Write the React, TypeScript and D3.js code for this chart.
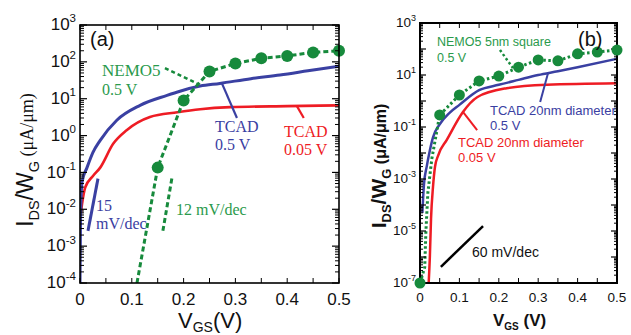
import React from 'react'
import * as d3 from 'd3'

// ---- panel (a) data: V_GS (V) and I_DS/W_G (uA/um)
const vTcad05A = [0, 0.001, 0.004, 0.0135, 0.025, 0.039, 0.071, 0.116, 0.168, 0.193, 0.232, 0.27, 0.33, 0.386, 0.44, 0.5]
const iTcad05A = [1e-4, 5e-3, 0.056, 0.135, 0.35, 0.74, 2.6, 6.6, 12.3, 16, 22, 26, 35, 44, 57, 76]
const vTcad005A = [0, 0.004, 0.01, 0.025, 0.039, 0.064, 0.09, 0.135, 0.188, 0.232, 0.29, 0.4, 0.5]
const iTcad005A = [5e-3, 0.014, 0.039, 0.08, 0.135, 0.6, 1.4, 3.2, 4.3, 5.2, 5.9, 6.3, 6.6]
const vNemoA = [0.11, 0.15, 0.2, 0.25, 0.3, 0.35, 0.4, 0.45, 0.5]
const iNemoA = [1e-4, 0.135, 9, 55, 90, 125, 145, 180, 200]
const vSlope15 = [0.0154, 0.0347]
const iSlope15 = [2.6e-3, 0.068]
const vSlope12 = [0.16, 0.178]
const iSlope12 = [2.6e-3, 0.078]

// ---- panel (b) data
const vTcad05B = [0.006, 0.01, 0.017, 0.025, 0.033, 0.05, 0.075, 0.1, 0.15, 0.2, 0.25, 0.3, 0.35, 0.4, 0.5]
const iTcad05B = [5e-5, 6e-4, 3e-3, 0.0126, 0.04, 0.126, 0.35, 0.71, 2.6, 4.2, 6.5, 10, 14, 20, 42]
const vTcad005B = [0.022, 0.025, 0.028, 0.033, 0.038, 0.046, 0.068, 0.109, 0.145, 0.22, 0.322, 0.5]
const iTcad005B = [1e-7, 1e-6, 3e-5, 5e-4, 2.9e-3, 8e-3, 0.032, 0.38, 1.4, 3.1, 4.2, 4.8]
const vNemoB = [0, 0.012, 0.015, 0.02, 0.03, 0.05, 0.1, 0.15, 0.2, 0.25, 0.3, 0.35, 0.4, 0.45, 0.5]
const iNemoB = [1e-7, 4e-7, 1e-5, 3e-4, 6e-3, 0.29, 1.7, 5.9, 9.1, 20, 38, 35, 65, 76, 91]
const vSlope60 = [0.053, 0.16]
const iSlope60 = [4.2e-7, 1.55e-5]

const xTicks = [0, 0.1, 0.2, 0.3, 0.4, 0.5]
const expA = [-4, -3, -2, -1, 0, 1, 2, 3]
const expB = [-7, -6, -5, -4, -3, -2, -1, 0, 1, 2, 3]
const expBLabels = [-7, -5, -3, -1, 1, 3]

const sans = 'Liberation Sans, Arial, sans-serif'
const serif = 'Liberation Serif, Times New Roman, serif'
const BLUE = '#3a40a2'
const RED = '#ee1c24'
const GREEN = '#178a3c'
const GREEN_TXT = '#2a9a4c'

type Sc = d3.ScaleLinear<number, number>
type Lg = d3.ScaleLogarithmic<number, number>

const zip = (v: number[], i: number[]) => v.map((d, k) => [d, i[k]] as [number, number])
const isMarker = (v: number) => Math.abs(v * 20 - Math.round(v * 20)) < 1e-6

function Frame({ x, y, exps, labels, fs, sup, majorLen, minorLen, sw }: {
  x: Sc, y: Lg, exps: number[], labels: number[], fs: number, sup: number, majorLen: number, minorLen: number, sw: number
}) {
  const [x0, x1] = x.range()
  const [y0, y1] = y.range()
  const minors: number[] = []
  exps.slice(0, -1).forEach(e => { for (let k = 2; k < 10; k++) minors.push(k * Math.pow(10, e)) })
  const xt = d3.range(0, 0.5001, 0.05)
  return (
    <g>
      {minors.map((m, i) => (
        <g key={'m' + i} stroke="#000" strokeWidth={1}>
          <line x1={x0} x2={x0 + minorLen} y1={y(m)} y2={y(m)} />
          <line x1={x1} x2={x1 - minorLen} y1={y(m)} y2={y(m)} />
        </g>
      ))}
      {exps.map(e => (
        <g key={'M' + e} stroke="#000" strokeWidth={1.2}>
          <line x1={x0} x2={x0 + majorLen} y1={y(Math.pow(10, e))} y2={y(Math.pow(10, e))} />
          <line x1={x1} x2={x1 - majorLen} y1={y(Math.pow(10, e))} y2={y(Math.pow(10, e))} />
        </g>
      ))}
      {xt.map((t, i) => (
        <g key={'x' + i} stroke="#000" strokeWidth={1}>
          <line x1={x(t)} x2={x(t)} y1={y0} y2={y0 - 5} />
          <line x1={x(t)} x2={x(t)} y1={y1} y2={y1 + 5} />
        </g>
      ))}
      <rect x={x0} y={y1} width={x1 - x0} height={y0 - y1} fill="none" stroke="#000" strokeWidth={sw} />
      {labels.map(e => (
        <text key={'l' + e} x={x0 - 4} y={y(Math.pow(10, e)) + fs * 0.3} textAnchor="end" fontFamily={sans} fontSize={fs} fill="#111">
          10<tspan dy={-fs * 0.45} fontSize={sup}>{e}</tspan>
        </text>
      ))}
      {xTicks.map(t => (
        <text key={'t' + t} x={x(t)} y={y0 + fs + 5} textAnchor="middle" fontFamily={sans} fontSize={fs} fill="#111">{t === 0 ? '0' : t.toFixed(1)}</text>
      ))}
    </g>
  )
}

export default function App() {
  const xA = d3.scaleLinear().domain([0, 0.5]).range([80, 339])
  const yA = d3.scaleLog().domain([1e-4, 1e3]).range([283, 25])
  const xB = d3.scaleLinear().domain([0, 0.5]).range([420, 617])
  const yB = d3.scaleLog().domain([1e-7, 1e3]).range([283, 23])

  const lineA = d3.line<[number, number]>().x(d => xA(d[0])).y(d => yA(d[1]))
  const lineB = d3.line<[number, number]>().x(d => xB(d[0])).y(d => yB(d[1]))
  const smoothA = d3.line<[number, number]>().x(d => xA(d[0])).y(d => yA(d[1])).curve(d3.curveMonotoneX)
  const smoothB = d3.line<[number, number]>().x(d => xB(d[0])).y(d => yB(d[1])).curve(d3.curveMonotoneX)

  const nemoA = zip(vNemoA, iNemoA)
  const nemoB = zip(vNemoB, iNemoB)

  return (
    <svg width={631} height={335} style={{ position: 'absolute', left: 0, top: 0, background: '#fff' }}>
      <defs>
        <clipPath id="ca"><rect x={80} y={25} width={259} height={258} /></clipPath>
        <clipPath id="cb"><rect x={420} y={23} width={197} height={260} /></clipPath>
      </defs>

      {/* ---------- panel (a) ---------- */}
      <g clipPath="url(#ca)" fill="none">
        <path d={smoothA(zip(vTcad005A, iTcad005A))!} stroke={RED} strokeWidth={2.6} />
        <path d={smoothA(zip(vTcad05A, iTcad05A))!} stroke={BLUE} strokeWidth={3} />
        <path d={lineA(nemoA)!} stroke={GREEN} strokeWidth={3} strokeDasharray="5,3" />
        <path d={lineA(zip(vSlope15, iSlope15))!} stroke={BLUE} strokeWidth={3} />
        <path d={lineA(zip(vSlope12, iSlope12))!} stroke={GREEN} strokeWidth={3} strokeDasharray="5,3" />
      </g>
      {nemoA.filter(d => isMarker(d[0])).map((d, i) => (
        <circle key={'na' + i} cx={xA(d[0])} cy={yA(d[1])} r={6} fill={GREEN} />
      ))}
      <Frame x={xA} y={yA} exps={expA} labels={expA} fs={17} sup={11.5} majorLen={7} minorLen={4} sw={1.6} />

      {/* leaders (a) */}
      <path d={lineA([[0.164, 68], [0.226, 26]])!} stroke={GREEN} strokeWidth={2.5} strokeDasharray="4,3" fill="none" />
      <path d={lineA([[0.274, 26], [0.303, 3.0]])!} stroke={BLUE} strokeWidth={2.2} fill="none" />
      <path d={lineA([[0.419, 6.2], [0.432, 3.0]])!} stroke={RED} strokeWidth={2.2} fill="none" />

      <text x={90} y={46} fontFamily={sans} fontSize={20} fill="#111">(a)</text>
      <g fontFamily={serif} fontSize={16}>
        <text x={102} y={76} fill={GREEN_TXT} fontSize={17}>NEMO5</text>
        <text x={102} y={95} fill={GREEN_TXT}>0.5 V</text>
        <text x={215} y={132} fill={BLUE}>TCAD</text>
        <text x={215} y={150} fill={BLUE}>0.5 V</text>
        <text x={284} y={137} fill={RED}>TCAD</text>
        <text x={284} y={155} fill={RED}>0.05 V</text>
        <text x={96} y={211} fill={BLUE}>15</text>
        <text x={96} y={229} fill={BLUE}>mV/dec</text>
        <text x={176} y={215} fill={GREEN_TXT}>12 mV/dec</text>
      </g>
      <text transform="translate(33,160) rotate(-90)" textAnchor="middle" fill="#111">
        <tspan fontFamily={sans} fontSize={23}>I</tspan>
        <tspan fontFamily={sans} fontSize={14.5} dy={6}>DS</tspan>
        <tspan fontFamily={sans} fontSize={23} dy={-6}>/W</tspan>
        <tspan fontFamily={sans} fontSize={14.5} dy={6}>G</tspan>
        <tspan fontFamily={serif} fontSize={18} dy={-6}> (μA/μm)</tspan>
      </text>
      <text x={178} y={328} fill="#111" fontFamily={sans}>
        <tspan fontSize={22}>V</tspan>
        <tspan fontSize={14} dy={4}>GS</tspan>
        <tspan fontSize={22} dy={-4}>(V)</tspan>
      </text>

      {/* ---------- panel (b) ---------- */}
      <g clipPath="url(#cb)" fill="none">
        <path d={smoothB(zip(vTcad005B, iTcad005B))!} stroke={RED} strokeWidth={2.5} />
        <path d={smoothB(zip(vTcad05B, iTcad05B))!} stroke={BLUE} strokeWidth={2.5} />
        <path d={lineB(nemoB)!} stroke={GREEN} strokeWidth={3} strokeDasharray="2.5,2.5" />
      </g>
      <path d={lineB(zip(vSlope60, iSlope60))!} stroke="#000" strokeWidth={2.5} fill="none" />
      <Frame x={xB} y={yB} exps={expB} labels={expBLabels} fs={13.5} sup={9} majorLen={6} minorLen={3} sw={2} />
      {nemoB.filter(d => isMarker(d[0])).map((d, i) => (
        <circle key={'nb' + i} cx={xB(d[0])} cy={yB(d[1])} r={5.5} fill={GREEN} />
      ))}

      {/* leaders (b) */}
      <path d={lineB([[0.203, 91], [0.236, 18.6]])!} stroke={GREEN} strokeWidth={2.5} strokeDasharray="2.5,2.5" fill="none" />
      <path d={lineB([[0.325, 12], [0.305, 0.91]])!} stroke={BLUE} strokeWidth={2} fill="none" />
      <path d={lineB([[0.109, 0.38], [0.145, 0.076]])!} stroke={RED} strokeWidth={2} fill="none" />

      <text x={578} y={46} fontFamily={sans} fontSize={20} fill="#111">(b)</text>
      <g fontFamily={sans} fontSize={13}>
        <text x={437} y={46} fill={GREEN_TXT} fontSize={12.5}>NEMO5 5nm square</text>
        <text x={437} y={62} fill={GREEN_TXT} fontSize={12.5}>0.5 V</text>
        <text x={490} y={115} fill={BLUE}>TCAD 20nm diameter</text>
        <text x={490} y={130} fill={BLUE}>0.5 V</text>
        <text x={458} y={147} fill={RED}>TCAD 20nm diameter</text>
        <text x={458} y={162} fill={RED}>0.05 V</text>
        <text x={472} y={257} fill="#111" fontSize={14}>60 mV/dec</text>
      </g>
      <text transform="translate(386,166) rotate(-90)" textAnchor="middle" fill="#111" fontFamily={sans} fontWeight="bold">
        <tspan fontSize={21}>I</tspan>
        <tspan fontSize={13} dy={5}>DS</tspan>
        <tspan fontSize={21} dy={-5}>/W</tspan>
        <tspan fontSize={13} dy={5}>G</tspan>
        <tspan fontSize={16} dy={-5}> (μA/μm)</tspan>
      </text>
      <text x={493} y={326} fill="#111" fontFamily={sans} fontWeight="bold">
        <tspan fontSize={17}>V</tspan>
        <tspan fontSize={10} dy={4}>GS</tspan>
        <tspan fontSize={17} dy={-4}> (V)</tspan>
      </text>
    </svg>
  )
}
